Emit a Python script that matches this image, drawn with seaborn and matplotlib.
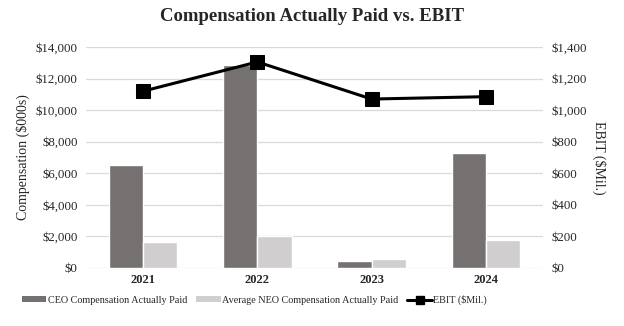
import matplotlib
matplotlib.use("Agg")
import matplotlib.pyplot as plt
import seaborn as sns
import pandas as pd
from matplotlib.patches import Patch
from matplotlib.lines import Line2D

years = ["2021", "2022", "2023", "2024"]
ceo_cap = [6500, 12850, 450, 7300]
neo_cap = [1650, 2050, 550, 1750]
ebit = [1120, 1305, 1070, 1085]

series_names = ["CEO Compensation Actually Paid", "Average NEO Compensation Actually Paid"]
line_name = "EBIT ($Mil.)"
left_ticks = [0, 2000, 4000, 6000, 8000, 10000, 12000, 14000]
right_ticks = [0, 200, 400, 600, 800, 1000, 1200, 1400]

sns.set_theme(style="white")
plt.rcParams["font.family"] = ["Liberation Serif", "DejaVu Serif"]

bars = pd.DataFrame({
    "Year": years * 2,
    "Series": [series_names[0]] * 4 + [series_names[1]] * 4,
    "Value": ceo_cap + neo_cap,
})
line_df = pd.DataFrame({"Year": years, "EBIT": ebit})

colors = ["#767171", "#D0CECE"]

fig = plt.figure(figsize=(6.24, 3.26), dpi=100)
ax = fig.add_axes([0.138, 0.178, 0.732, 0.678])

sns.barplot(data=bars, x="Year", y="Value", hue="Series", palette=colors,
            width=0.6, saturation=1, ax=ax, legend=False, zorder=2)
ax.set_ylim(0, 14000)
ax.set_yticks(left_ticks)
ax.set_yticklabels([f"${v:,}" for v in left_ticks], fontsize=9.3)
ax.yaxis.grid(True, color="#D9D9D9", linewidth=0.9, zorder=0)
ax.set_axisbelow(True)
for s in ax.spines.values():
    s.set_visible(False)
ax.set_xlabel("")
ax.set_ylabel("Compensation ($000s)", fontsize=10)
ax.tick_params(axis="x", length=0, pad=4)
ax.tick_params(axis="y", length=0, pad=6)
for lab in ax.get_xticklabels():
    lab.set_fontweight("bold")
    lab.set_fontsize(9)
ax.set_xlim(-0.5, 3.5)

ax2 = ax.twinx()
sns.lineplot(data=line_df, x="Year", y="EBIT", color="black", linewidth=2.2,
             marker="s", markersize=10, markeredgecolor="black", ax=ax2, zorder=5)
ax2.set_ylim(0, 1400)
ax2.set_yticks(right_ticks)
ax2.set_yticklabels([f"${v:,}" for v in right_ticks], fontsize=9.3)
ax2.set_ylabel("EBIT ($Mil.)", fontsize=10, rotation=270, labelpad=14)
ax2.tick_params(axis="y", length=0, pad=6)
for s in ax2.spines.values():
    s.set_visible(False)
ax2.set_xlim(-0.5, 3.5)

fig.suptitle("Compensation Actually Paid vs. EBIT", fontsize=13.5, fontweight="bold", y=0.975)

handles = [
    Patch(facecolor=colors[0], edgecolor="none"),
    Patch(facecolor=colors[1], edgecolor="none"),
    Line2D([0], [0], color="black", linewidth=2.2, marker="s", markersize=6),
]
fig.legend(handles, series_names + [line_name], loc="center left", ncol=3,
           frameon=False, fontsize=7.3, bbox_to_anchor=(0.035, 0.08),
           handlelength=2.4, handleheight=0.45, handletextpad=0.15, columnspacing=0.9,
           borderaxespad=0, borderpad=0)

fig.savefig("out.png", dpi=100)
